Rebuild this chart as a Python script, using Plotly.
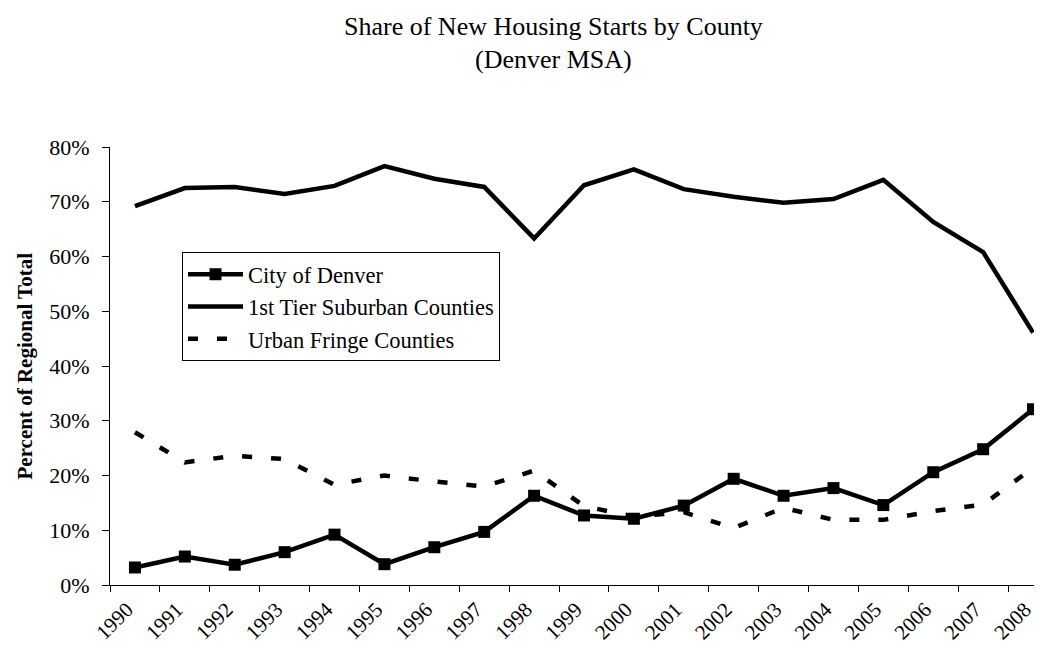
import plotly.graph_objects as go

years = [str(y) for y in range(1990, 2009)]
city_denver = [3.2, 5.2, 3.7, 6.0, 9.2, 3.8, 6.9, 9.7, 16.3, 12.7, 12.1, 14.5, 19.4, 16.3, 17.7, 14.6, 20.6, 24.8, 32.1]
first_tier = [69.2, 72.5, 72.7, 71.4, 72.9, 76.5, 74.2, 72.7, 63.3, 73.0, 75.9, 72.3, 70.9, 69.8, 70.5, 74.0, 66.3, 60.8, 46.1]
urban_fringe = [27.9, 22.4, 23.6, 23.0, 18.3, 20.0, 18.9, 18.0, 20.9, 14.4, 12.5, 13.3, 10.4, 14.1, 11.9, 11.9, 13.5, 14.7, 21.4]

FONT = "Liberation Serif, Times New Roman, serif"

fig = go.Figure()
fig.add_trace(go.Scatter(
    x=years, y=[v / 100 for v in city_denver], name="City of Denver",
    mode="lines+markers",
    line=dict(color="black", width=4.5),
    marker=dict(symbol="square", size=12, color="black"),
))
fig.add_trace(go.Scatter(
    x=years, y=[v / 100 for v in first_tier], name="1st Tier Suburban Counties",
    mode="lines",
    line=dict(color="black", width=4.5),
))
fig.add_trace(go.Scatter(
    x=years, y=[v / 100 for v in urban_fringe], name="Urban Fringe Counties",
    mode="lines",
    line=dict(color="black", width=4.5, dash="10px,19px"),
))

fig.update_layout(
    width=1042, height=654,
    margin=dict(l=102, r=0, t=139, b=77, autoexpand=False),
    paper_bgcolor="white", plot_bgcolor="white",
    font=dict(family=FONT, color="black", size=22),
    showlegend=True,
    legend=dict(
        x=0.0766, y=0.760, xanchor="left", yanchor="top",
        bgcolor="white", bordercolor="black", borderwidth=1,
        font=dict(family=FONT, size=22.5, color="black"),
        itemwidth=55,
    ),
    xaxis=dict(
        type="category", categoryorder="array", categoryarray=years,
        range=[-0.5, 18.34],
        showline=True, linecolor="black", linewidth=1,
        ticks="outside", ticklen=6, tickcolor="black", tickson="boundaries",
        tickangle=-45, tickfont=dict(family=FONT, size=21),
        ticklabelstandoff=3, ticklabelshift=-8,
        showgrid=False, zeroline=False, automargin=False,
    ),
    yaxis=dict(
        range=[0, 0.8], dtick=0.1, tickformat=".0%",
        showline=True, linecolor="black", linewidth=1,
        ticks="outside", ticklen=7, tickcolor="black",
        tickfont=dict(family=FONT, size=22), ticklabelstandoff=8,
        showgrid=False, zeroline=False, automargin=False,
    ),
    annotations=[
        dict(text="Share of New Housing Starts by County", xref="paper", yref="paper",
             x=0.4723, y=1.274, xanchor="center", yanchor="middle", showarrow=False,
             font=dict(family=FONT, size=26)),
        dict(text="(Denver MSA)", xref="paper", yref="paper",
             x=0.4723, y=1.199, xanchor="center", yanchor="middle", showarrow=False,
             font=dict(family=FONT, size=26)),
        dict(text="<b>Percent of Regional Total</b>", xref="paper", yref="paper",
             x=-0.0899, y=0.5, xanchor="center", yanchor="middle", showarrow=False,
             textangle=-90, font=dict(family=FONT, size=21)),
    ],
)

fig.write_html("out.html")
